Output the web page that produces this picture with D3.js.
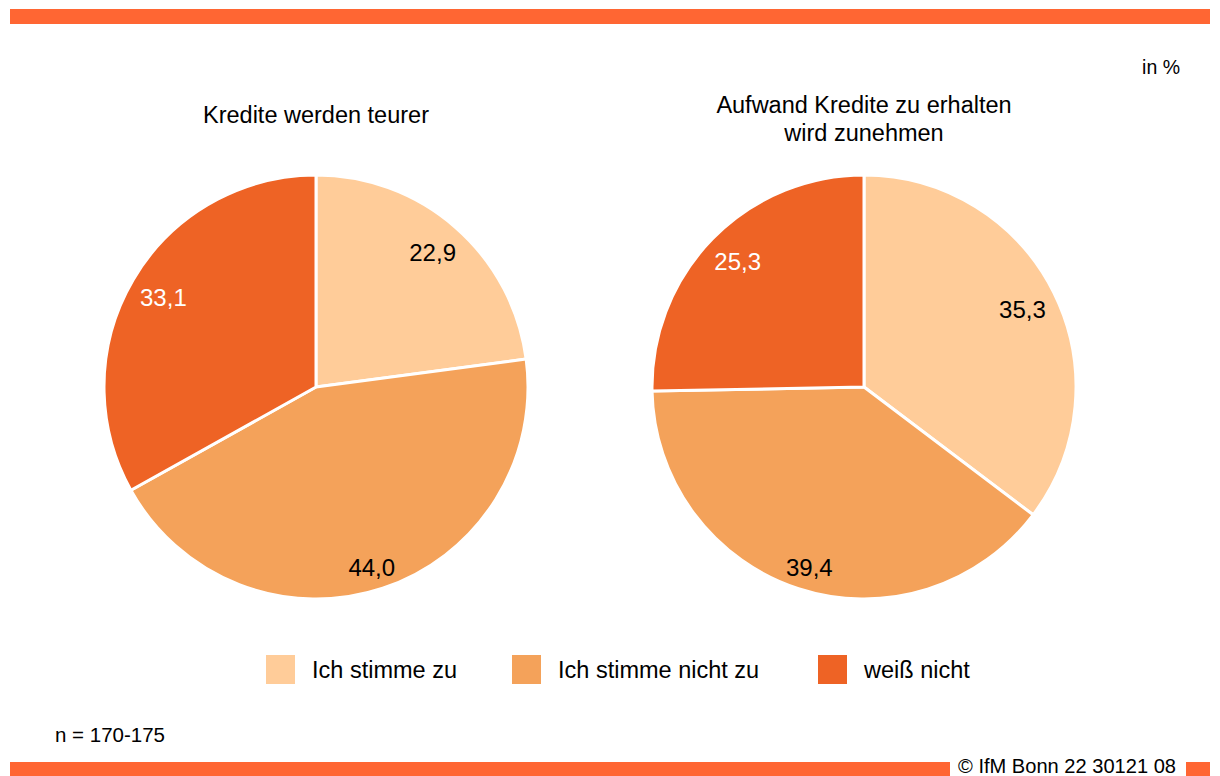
<!DOCTYPE html>
<html><head><meta charset="utf-8">
<script src="https://cdn.jsdelivr.net/npm/d3@7"></script>
<style>body{margin:0;background:#fff}svg{display:block}text{font-family:"Liberation Sans",Arial,sans-serif}</style>
</head><body>
<svg id="c" width="1220" height="776"></svg>
<script>
const categories = ["Ich stimme zu", "Ich stimme nicht zu", "weiß nicht"];
const chartTitles = [["Kredite werden teurer"], ["Aufwand Kredite zu erhalten", "wird zunehmen"]];
const valuesTeurer = [22.9, 44.0, 33.1];
const valuesAufwand = [35.3, 39.4, 25.3];
const colors = ["#FFCC99", "#F4A25A", "#EE6325"];
const labelColors = ["#000", "#000", "#fff"];

const svg = d3.select("#c");
const accent = "#FF6633";

svg.append("rect").attr("x", 10).attr("y", 9).attr("width", 1200).attr("height", 15).attr("fill", accent);
svg.append("rect").attr("x", 10).attr("y", 762).attr("width", 940).attr("height", 14).attr("fill", accent);
svg.append("rect").attr("x", 1186).attr("y", 762).attr("width", 24).attr("height", 14).attr("fill", accent);
svg.append("text").attr("x", 958).attr("y", 773)
  .attr("font-size", 20).attr("textLength", 218).attr("lengthAdjust", "spacingAndGlyphs")
  .attr("fill", "#000").text("© IfM Bonn 22 30121 08");

svg.append("text").attr("x", 1180).attr("y", 74).attr("text-anchor", "end")
  .attr("font-size", 19.5).text("in %");
svg.append("text").attr("x", 55).attr("y", 742).attr("font-size", 20.5).text("n = 170-175");

const R = 212;
const pie = d3.pie().sort(null).value(d => d);
const arc = d3.arc().innerRadius(0).outerRadius(R);
const fmt = v => d3.format(".1f")(v).replace(".", ",");

function drawPie(values, cx, cy, title) {
  const g = svg.append("g").attr("transform", `translate(${cx},${cy})`);
  const arcs = pie(values);
  g.selectAll("path").data(arcs).join("path")
    .attr("d", arc).attr("fill", (d, i) => colors[i])
    .attr("stroke", "#fff").attr("stroke-width", 3).attr("stroke-linejoin", "round");
  const lrx = 177, lry = 185;
  g.selectAll("text.lbl").data(arcs).join("text").attr("class", "lbl")
    .attr("x", d => lrx * Math.sin((d.startAngle + d.endAngle) / 2))
    .attr("y", d => -lry * Math.cos((d.startAngle + d.endAngle) / 2))
    .attr("dy", 13)
    .attr("text-anchor", "middle").attr("font-size", 24)
    .attr("fill", (d, i) => labelColors[i])
    .text(d => fmt(d.data));
  const t = svg.append("text").attr("text-anchor", "middle").attr("font-size", 23.5);
  const baseY = title.length === 1 ? 123 : 113;
  title.forEach((line, i) => {
    t.append("tspan").attr("x", cx).attr("y", baseY + i * 28).text(line);
  });
}

drawPie(valuesTeurer, 316, 387, chartTitles[0]);
drawPie(valuesAufwand, 864, 387, chartTitles[1]);

const legX = [266, 512, 818];
const lg = svg.append("g");
categories.forEach((c, i) => {
  lg.append("rect").attr("x", legX[i]).attr("y", 655).attr("width", 29).attr("height", 29).attr("fill", colors[i]);
  lg.append("text").attr("x", legX[i] + 46).attr("y", 678).attr("font-size", 23.5).text(c);
});
</script>
</body></html>
